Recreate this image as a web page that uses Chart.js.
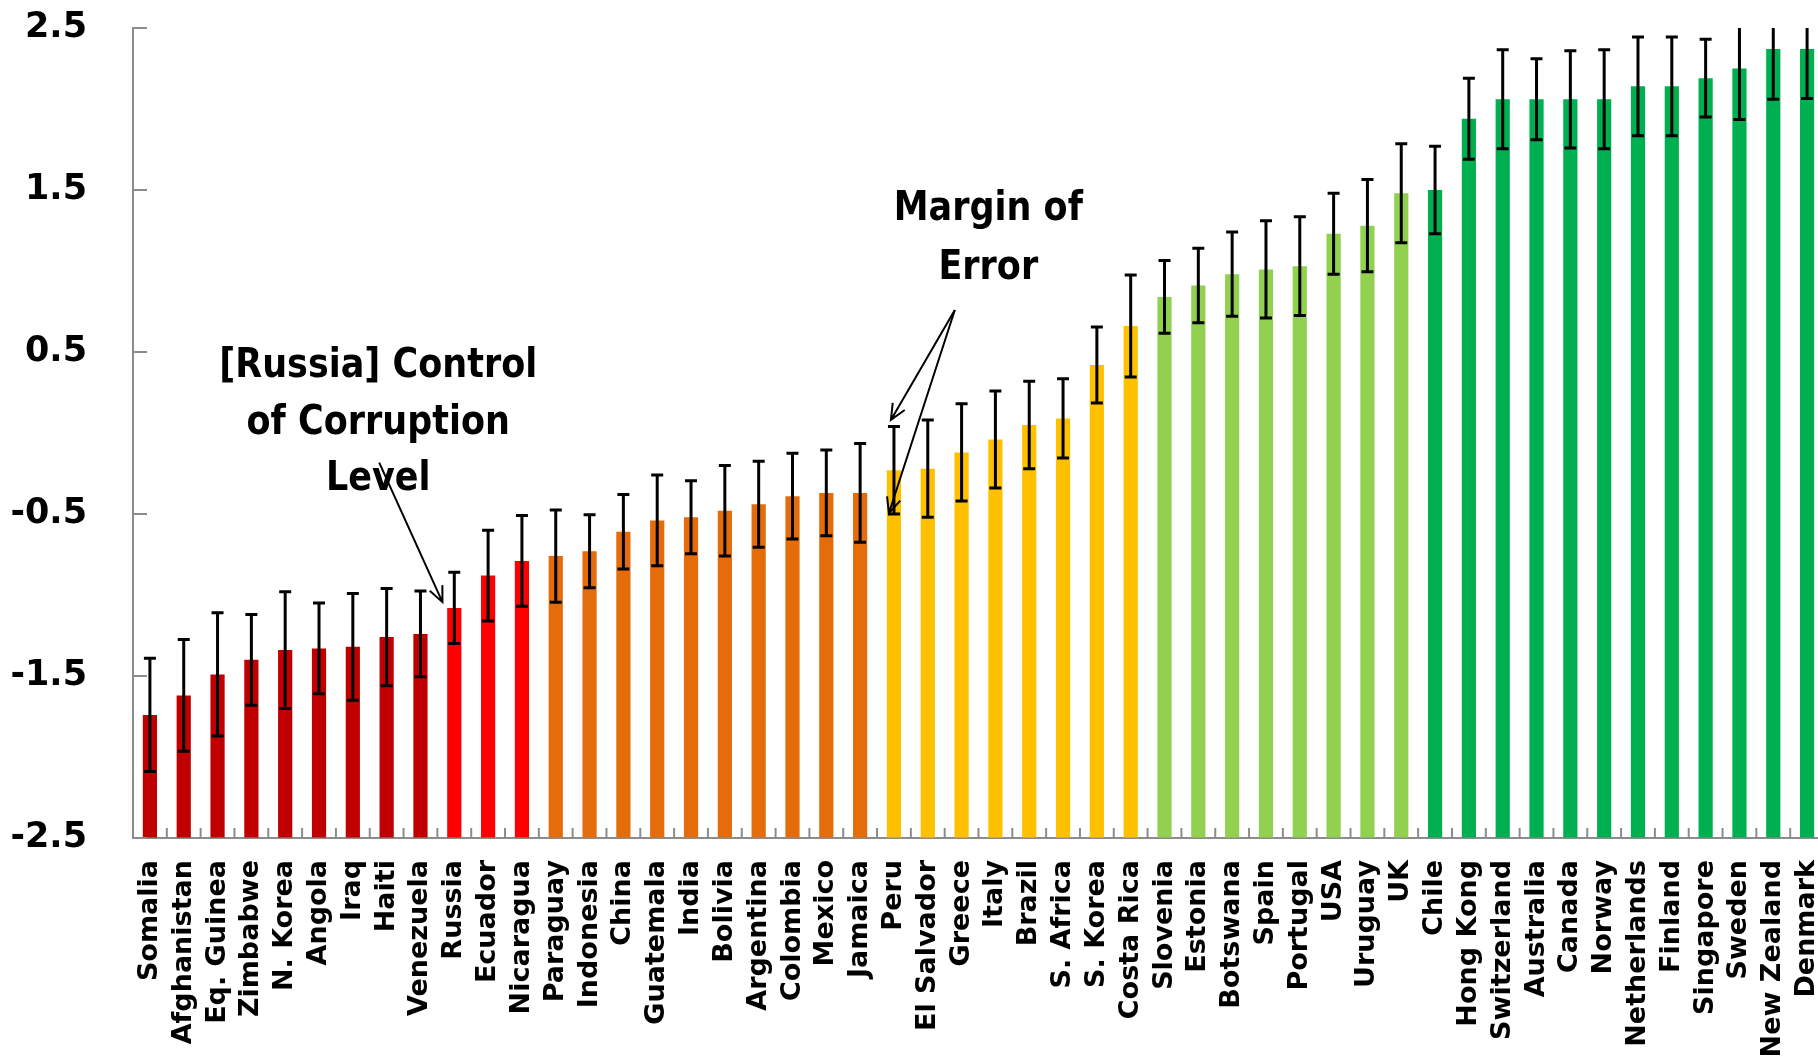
<!DOCTYPE html>
<html>
<head>
<meta charset="utf-8">
<script src="https://cdn.jsdelivr.net/npm/chart.js@4.4.1/dist/chart.umd.min.js"></script>
<style>
  html, body { margin: 0; padding: 0; background: #fff; overflow: hidden; }
  #wrap { width: 1818px; height: 1061px; overflow: hidden; }
</style>
</head>
<body>
<div id="wrap"><canvas id="myChart" width="1824" height="1061"></canvas></div>
<script>
const countries = ['Somalia', 'Afghanistan', 'Eq. Guinea', 'Zimbabwe', 'N. Korea', 'Angola', 'Iraq', 'Haiti',
  'Venezuela', 'Russia', 'Ecuador', 'Nicaragua', 'Paraguay', 'Indonesia', 'China', 'Guatemala', 'India',
  'Bolivia', 'Argentina', 'Colombia', 'Mexico', 'Jamaica', 'Peru', 'El Salvador', 'Greece', 'Italy', 'Brazil',
  'S. Africa', 'S. Korea', 'Costa Rica', 'Slovenia', 'Estonia', 'Botswana', 'Spain', 'Portugal', 'USA',
  'Uruguay', 'UK', 'Chile', 'Hong Kong', 'Switzerland', 'Australia', 'Canada', 'Norway', 'Netherlands',
  'Finland', 'Singapore', 'Sweden', 'New Zealand', 'Denmark']

// control of corruption score
const scores = [-1.74, -1.62, -1.49, -1.40, -1.34, -1.33, -1.32, -1.26, -1.24, -1.08,
  -0.88, -0.79, -0.76, -0.73, -0.61, -0.54, -0.52, -0.48, -0.44, -0.39,
  -0.37, -0.37, -0.23, -0.22, -0.12, -0.04, 0.05, 0.09, 0.42, 0.66,
  0.84, 0.91, 0.98, 1.01, 1.03, 1.23, 1.28, 1.48, 1.50, 1.94,
  2.06, 2.06, 2.06, 2.06, 2.14, 2.14, 2.19, 2.25, 2.37, 2.37]

// margin of error (+/-)
const margins = [0.35, 0.345, 0.38, 0.28, 0.36, 0.28, 0.33, 0.30, 0.265, 0.22,
  0.28, 0.28, 0.285, 0.225, 0.23, 0.28, 0.225, 0.28, 0.265, 0.265,
  0.265, 0.305, 0.27, 0.30, 0.30, 0.30, 0.27, 0.245, 0.235, 0.315,
  0.225, 0.23, 0.26, 0.30, 0.305, 0.25, 0.285, 0.305, 0.27, 0.25,
  0.305, 0.25, 0.30, 0.305, 0.305, 0.305, 0.24, 0.315, 0.31, 0.305]

// colour band of each country (0 = worst ... 5 = best)
const bands = [0, 0, 0, 0, 0, 0, 0, 0, 0, 1, 1, 1,
  2, 2, 2, 2, 2, 2, 2, 2, 2, 2,
  3, 3, 3, 3, 3, 3, 3, 3,
  4, 4, 4, 4, 4, 4, 4, 4,
  5, 5, 5, 5, 5, 5, 5, 5, 5, 5, 5, 5]

const yTicks = [-2.5, -1.5, -0.5, 0.5, 1.5, 2.5]

const russiaNote = ['[Russia] Control', 'of Corruption', 'Level']
const errorNote = ['Margin of', 'Error']

const bandColors = ['#C00000', '#FF0000', '#E46C0A', '#FFC000', '#92D050', '#00B050']
const axisGray = '#8c8c8c'
const noteFont = 'bold 35px "DejaVu Sans"'

const ctx = document.getElementById('myChart')

// error bars, clipped to the plot like in the original
const errorBars = {
  id: 'errorBars',
  afterDatasetsDraw(chart) {
    const c = chart.ctx, y = chart.scales.y, area = chart.chartArea
    const meta = chart.getDatasetMeta(0)
    c.save()
    c.beginPath()
    c.rect(area.left, area.top, area.right - area.left, area.bottom - area.top)
    c.clip()
    c.strokeStyle = '#000'
    c.lineWidth = 3
    meta.data.forEach((bar, i) => {
      const top = y.getPixelForValue(scores[i] + margins[i])
      const bot = y.getPixelForValue(scores[i] - margins[i])
      c.beginPath()
      c.moveTo(bar.x, top); c.lineTo(bar.x, bot)
      c.moveTo(bar.x - 6, top); c.lineTo(bar.x + 6, top)
      c.moveTo(bar.x - 6, bot); c.lineTo(bar.x + 6, bot)
      c.stroke()
    })
    c.restore()
  }
}

// little inside tick marks (excel style)
const innerTicks = {
  id: 'innerTicks',
  afterDraw(chart) {
    const c = chart.ctx, x = chart.scales.x, y = chart.scales.y, area = chart.chartArea
    c.save()
    c.strokeStyle = axisGray
    c.lineWidth = 2
    c.beginPath()
    yTicks.forEach(t => {
      const py = y.getPixelForValue(t)
      c.moveTo(area.left, py); c.lineTo(area.left + 14, py)
    })
    for (let i = 1; i < countries.length; i++) {
      const px = x.getPixelForValue(i - 0.5)
      c.moveTo(px, area.bottom); c.lineTo(px, area.bottom - 10)
    }
    c.stroke()
    c.restore()
  }
}

function arrow(c, x1, y1, x2, y2) {
  const a = Math.atan2(y2 - y1, x2 - x1), len = 17, spread = 0.42
  c.beginPath()
  c.moveTo(x1, y1); c.lineTo(x2, y2)
  c.moveTo(x2 - len * Math.cos(a - spread), y2 - len * Math.sin(a - spread))
  c.lineTo(x2, y2)
  c.lineTo(x2 - len * Math.cos(a + spread), y2 - len * Math.sin(a + spread))
  c.stroke()
}

// text a bit taller than wide, like the original
function tallText(c, t, x, y) {
  c.save()
  c.translate(x, y)
  c.scale(1, 1.15)
  c.fillText(t, 0, 0)
  c.restore()
}

// text notes + arrows, placed in data units
const notes = {
  id: 'notes',
  afterDraw(chart) {
    const c = chart.ctx, x = chart.scales.x, y = chart.scales.y
    const px = v => x.getPixelForValue(v), py = v => y.getPixelForValue(v)
    c.save()
    c.font = noteFont
    c.fillStyle = '#000'
    c.textAlign = 'center'
    c.textBaseline = 'middle'
    const rLines = [0.413, 0.060, -0.288]
    russiaNote.forEach((t, i) => tallText(c, t, px(6.75), py(rLines[i])))
    const eLines = [1.382, 1.014]
    errorNote.forEach((t, i) => tallText(c, t, px(24.79), py(eLines[i])))

    c.strokeStyle = '#000'
    c.lineWidth = 2
    arrow(c, px(6.78), py(-0.183), px(8.65), py(-1.044))
    arrow(c, px(23.80), py(0.759), px(21.91), py(0.081))
    arrow(c, px(23.80), py(0.759), px(21.85), py(-0.495))
    c.restore()
  }
}

const myChart = new Chart(ctx, {
  type: 'bar',
  data: {
    labels: countries,
    datasets: [{
      label: 'Control of Corruption',
      data: scores,
      base: -2.5,
      backgroundColor: bands.map(b => bandColors[b]),
      borderWidth: 0,
      barPercentage: 0.42,
      categoryPercentage: 1.0
    }]
  },
  options: {
    responsive: false,
    animation: false,
    devicePixelRatio: 1,
    layout: { padding: { top: 28, left: 0, right: 0, bottom: 0 } },
    plugins: {
      legend: { display: false },
      tooltip: { enabled: false }
    },
    scales: {
      x: {
        grid: { display: true, drawOnChartArea: false, drawTicks: false },
        border: { display: true, color: axisGray, width: 2 },
        ticks: {
          autoSkip: false,
          minRotation: 90,
          maxRotation: 90,
          padding: 22,
          color: '#000',
          font: { family: 'DejaVu Sans', size: 27, weight: 'bold' }
        },
        afterFit(scale) {
          scale.height = 223
          scale.paddingLeft = 0
          scale.paddingRight = 0
        }
      },
      y: {
        min: -2.5,
        max: 2.5,
        grid: { display: true, drawOnChartArea: false, drawTicks: false },
        border: { display: true, color: axisGray, width: 2 },
        afterBuildTicks(scale) {
          scale.ticks = yTicks.map(v => ({ value: v }))
        },
        ticks: {
          padding: 46,
          color: '#000',
          font: { family: 'DejaVu Sans', size: 35, weight: 'bold' },
          callback: v => v.toFixed(1)
        },
        afterFit(scale) {
          scale.width = 133
          scale.paddingTop = 0
          scale.paddingBottom = 0
        }
      }
    }
  },
  plugins: [errorBars, innerTicks, notes]
})
</script>
</body>
</html>
